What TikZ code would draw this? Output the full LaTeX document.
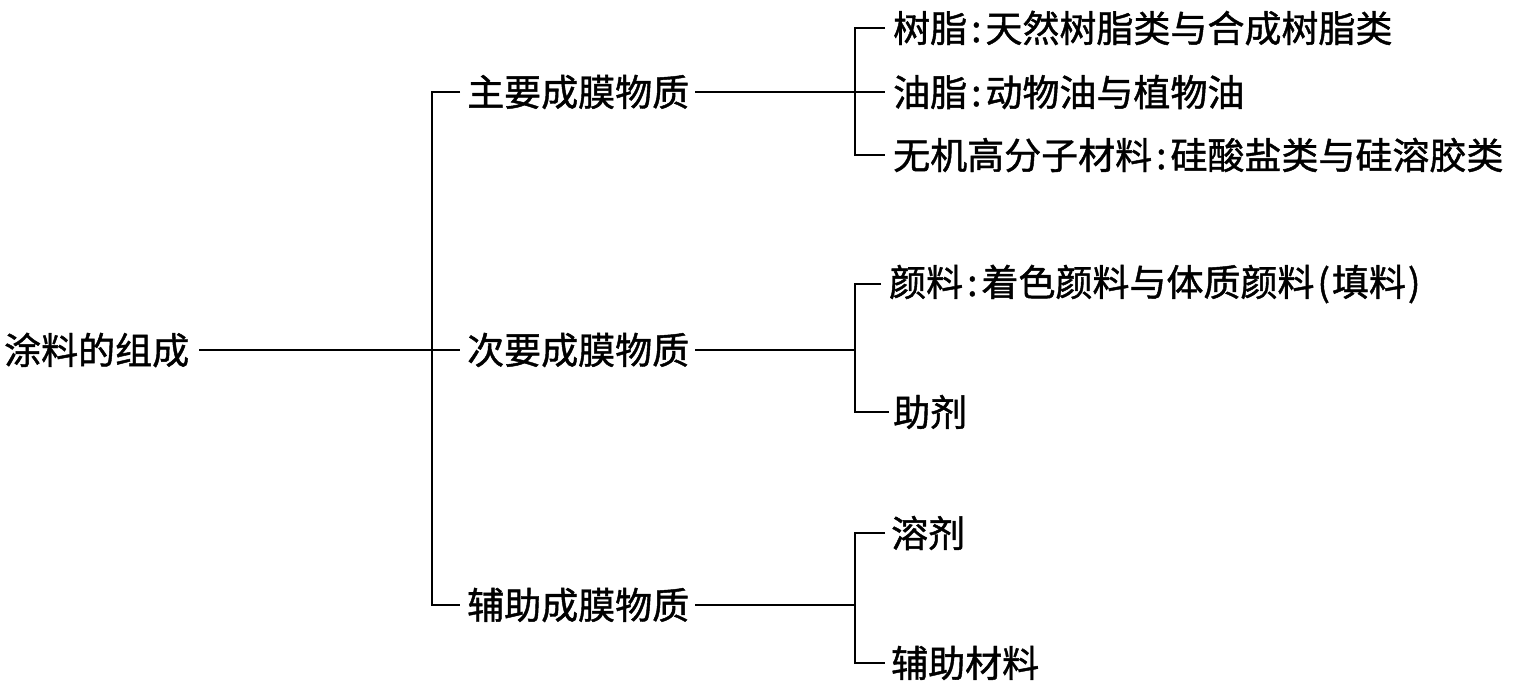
\documentclass[tikz,border=0pt]{standalone}
\usepackage{fontspec}
\newfontfamily\cjk[FakeBold=1.2]{Noto Sans CJK SC}
\newcommand{\cl}{\kern4pt:\kern4pt}
\newcommand{\lp}{\kern3pt(\kern2pt}
\newcommand{\rp}{\kern2pt)}
\begin{document}
\begin{tikzpicture}[x=1pt,y=-1pt,
  lbl/.style={anchor=west,inner sep=0pt,font=\cjk\fontsize{37}{40}\selectfont},
  conn/.style={line width=2.5pt}]
\useasboundingbox (0,0) rectangle (1515,681);
% nodes
\node[lbl] (root) at (4,350) {涂料的组成};
\node[lbl] (m1) at (467,92) {主要成膜物质};
\node[lbl] (m2) at (467,350) {次要成膜物质};
\node[lbl] (m3) at (467,605) {辅助成膜物质};
\node[lbl] (t1) at (893,28) {树脂\cl 天然树脂类与合成树脂类};
\node[lbl] (t2) at (893,92) {油脂\cl 动物油与植物油};
\node[lbl] (t3) at (893,155) {无机高分子材料\cl 硅酸盐类与硅溶胶类};
\node[lbl] (t4) at (889,284) {颜料\cl 着色颜料与体质颜料\lp 填料\rp};
\node[lbl] (t5) at (893,412) {助剂};
\node[lbl] (t6) at (891,533) {溶剂};
\node[lbl] (t7) at (891,663) {辅助材料};
\coordinate (busA) at (432,0);
\coordinate (busB) at (855,0);
% connectors
\draw[conn,shorten <=10pt,shorten >=7pt] (root.east) -- (m2.west);
\draw[conn,shorten <=7pt,shorten >=7pt] (m1.west) -| (busA |- m3.west) -- (m3.west);
\draw[conn,shorten <=6pt,shorten >=8pt] (m1.east) -- (t2.west);
\draw[conn,shorten <=8pt,shorten >=8pt] (t1.west) -| (busB |- t3.west) -- (t3.west);
\draw[conn,shorten <=6pt] (m2.east) -- (m2.east -| busB);
\draw[conn,shorten <=8pt,shorten >=4pt] (t4.west) -| (busB |- t5.west) -- (t5.west);
\draw[conn,shorten <=6pt] (m3.east) -- (m3.east -| busB);
\draw[conn,shorten <=6pt,shorten >=6pt] (t6.west) -| (busB |- t7.west) -- (t7.west);
\end{tikzpicture}
\end{document}
